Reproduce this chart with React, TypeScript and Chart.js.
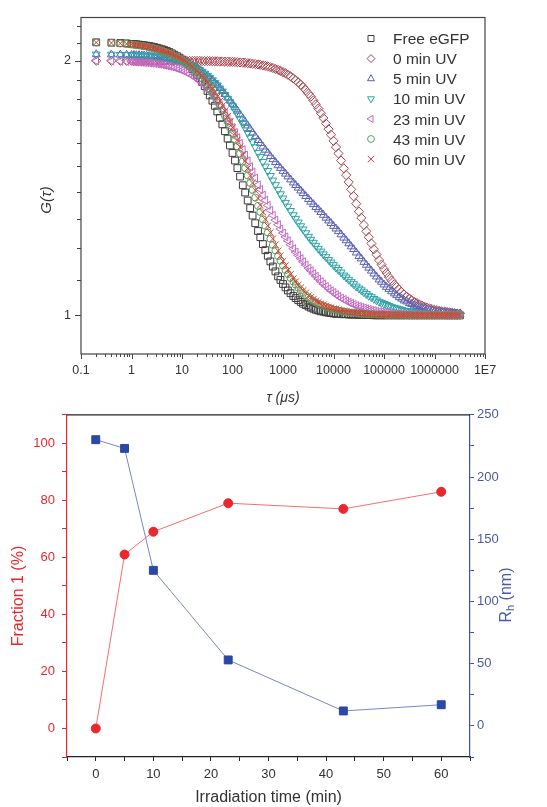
import React, { useEffect, useRef } from 'react';
import { Chart, registerables } from 'chart.js';

Chart.register(...registerables);

const FONT = "'Liberation Sans', Arial, Helvetica, sans-serif";

// ---------- Top chart: FCS autocorrelation curves (lag time in µs) ----------
const TAU = [
  0.2, 0.4, 0.6, 0.8,
  1, 1.12, 1.25, 1.41, 1.6, 1.78, 2, 2.24, 2.5, 2.82, 3.2, 3.55, 4, 4.47, 5, 5.62, 6.3, 7.08, 8, 8.91,
  10, 11.2, 12.5, 14.1, 16, 17.8, 20, 22.4, 25, 28.2, 32, 35.5, 40, 44.7, 50, 56.2, 63, 70.8, 80, 89.1,
  100, 112, 125, 141, 160, 178, 200, 224, 250, 282, 320, 355, 400, 447, 500, 562, 630, 708, 800, 891,
  1000, 1120, 1250, 1410, 1600, 1780, 2000, 2240, 2500, 2820, 3200, 3550, 4000, 4470, 5000, 5620, 6300, 7080, 8000, 8910,
  1e4, 1.12e4, 1.25e4, 1.41e4, 1.6e4, 1.78e4, 2e4, 2.24e4, 2.5e4, 2.82e4, 3.2e4, 3.55e4, 4e4, 4.47e4, 5e4, 5.62e4, 6.3e4, 7.08e4, 8e4, 8.91e4,
  1e5, 1.12e5, 1.25e5, 1.41e5, 1.6e5, 1.78e5, 2e5, 2.24e5, 2.5e5, 2.82e5, 3.2e5, 3.55e5, 4e5, 4.47e5, 5e5, 5.62e5, 6.3e5, 7.08e5, 8e5, 8.91e5,
  1e6, 1.12e6, 1.25e6, 1.41e6, 1.6e6, 1.78e6, 2e6, 2.24e6, 2.5e6, 2.82e6, 3.2e6,
];

const G_FREE = [
  2.103, 2.101, 2.099, 2.097,
  2.094, 2.093, 2.092, 2.090, 2.088, 2.086, 2.084, 2.082, 2.079, 2.076, 2.072, 2.068, 2.064, 2.059, 2.054, 2.048, 2.041, 2.033, 2.025, 2.017,
  2.007, 1.996, 1.985, 1.972, 1.956, 1.942, 1.925, 1.907, 1.888, 1.866, 1.842, 1.820, 1.794, 1.769, 1.742, 1.712, 1.682, 1.651, 1.618, 1.588,
  1.556, 1.524, 1.493, 1.459, 1.425, 1.397, 1.367, 1.339, 1.312, 1.285, 1.258, 1.237, 1.214, 1.194, 1.176, 1.158, 1.142, 1.127, 1.112, 1.101,
  1.089, 1.079, 1.070, 1.062, 1.054, 1.048, 1.042, 1.037, 1.032, 1.028, 1.024, 1.021, 1.018, 1.015, 1.013, 1.011, 1.010, 1.008, 1.007, 1.006,
  1.005, 1.004, 1.004, 1.003, 1.003, 1.003, 1.002, 1.002, 1.002, 1.002, 1.001, 1.001, 1.001, 1.001, 1.001, 1.001, 1.000, 1.000, 1.000, 1.000,
  1.000, 1.000, 1.000, 1.000, 1.000, 1.000, 1.000, 1.000, 1.000, 1.000, 1.000, 1.000, 1.000, 1.000, 1.000, 1.000, 1.000, 1.000, 1.000, 1.000,
  1.000, 1.000, 1.000, 1.000, 1.000, 1.000, 1.000, 1.000, 1.000, 1.000, 1.000,
];

const G_0MIN = [
  2.000, 2.000, 2.000, 2.000,
  2.000, 2.000, 2.000, 2.000, 2.000, 2.000, 2.000, 2.000, 2.000, 2.000, 2.000, 2.000, 2.000, 2.000, 2.000, 2.000, 2.000, 2.000, 2.000, 2.000,
  1.999, 1.999, 1.999, 1.999, 1.999, 1.999, 1.999, 1.999, 1.998, 1.998, 1.998, 1.998, 1.997, 1.997, 1.997, 1.996, 1.996, 1.995, 1.995, 1.994,
  1.994, 1.993, 1.992, 1.991, 1.990, 1.989, 1.987, 1.986, 1.984, 1.982, 1.980, 1.978, 1.975, 1.972, 1.969, 1.965, 1.961, 1.956, 1.951, 1.946,
  1.939, 1.933, 1.925, 1.917, 1.906, 1.897, 1.886, 1.874, 1.861, 1.846, 1.829, 1.814, 1.795, 1.776, 1.756, 1.734, 1.711, 1.686, 1.660, 1.635,
  1.608, 1.581, 1.554, 1.524, 1.492, 1.465, 1.437, 1.409, 1.383, 1.355, 1.326, 1.304, 1.279, 1.257, 1.237, 1.216, 1.197, 1.180, 1.162, 1.148,
  1.134, 1.122, 1.110, 1.099, 1.088, 1.080, 1.072, 1.065, 1.058, 1.052, 1.046, 1.042, 1.037, 1.034, 1.030, 1.027, 1.024, 1.021, 1.019, 1.017,
  1.015, 1.014, 1.012, 1.011, 1.010, 1.009, 1.008, 1.007, 1.006, 1.005, 1.005,
];

const G_5MIN = [
  2.035, 2.034, 2.033, 2.032,
  2.031, 2.031, 2.030, 2.030, 2.029, 2.028, 2.027, 2.026, 2.025, 2.023, 2.022, 2.020, 2.018, 2.016, 2.014, 2.011, 2.008, 2.005, 2.001, 1.997,
  1.993, 1.988, 1.983, 1.977, 1.970, 1.963, 1.956, 1.948, 1.939, 1.929, 1.918, 1.907, 1.895, 1.883, 1.870, 1.856, 1.841, 1.826, 1.809, 1.794,
  1.778, 1.761, 1.745, 1.727, 1.709, 1.693, 1.676, 1.660, 1.644, 1.628, 1.611, 1.598, 1.583, 1.569, 1.556, 1.542, 1.529, 1.517, 1.504, 1.493,
  1.481, 1.470, 1.459, 1.447, 1.435, 1.425, 1.415, 1.404, 1.394, 1.383, 1.372, 1.362, 1.353, 1.342, 1.334, 1.324, 1.314, 1.304, 1.294, 1.285,
  1.275, 1.266, 1.257, 1.246, 1.235, 1.226, 1.216, 1.206, 1.197, 1.186, 1.175, 1.167, 1.156, 1.147, 1.138, 1.129, 1.120, 1.111, 1.102, 1.095,
  1.087, 1.080, 1.074, 1.067, 1.061, 1.056, 1.050, 1.046, 1.041, 1.038, 1.033, 1.031, 1.027, 1.025, 1.022, 1.020, 1.018, 1.016, 1.014, 1.013,
  1.011, 1.010, 1.009, 1.008, 1.007, 1.007, 1.006, 1.005, 1.005, 1.004, 1.004,
];

const G_10MIN = [
  2.035, 2.034, 2.033, 2.033,
  2.032, 2.031, 2.031, 2.030, 2.029, 2.028, 2.027, 2.026, 2.025, 2.024, 2.022, 2.021, 2.019, 2.017, 2.015, 2.012, 2.010, 2.007, 2.003, 1.999,
  1.995, 1.991, 1.986, 1.980, 1.973, 1.966, 1.959, 1.951, 1.942, 1.932, 1.920, 1.910, 1.897, 1.884, 1.871, 1.855, 1.840, 1.823, 1.804, 1.787,
  1.768, 1.749, 1.730, 1.708, 1.685, 1.666, 1.644, 1.623, 1.603, 1.581, 1.557, 1.540, 1.519, 1.500, 1.482, 1.462, 1.444, 1.426, 1.408, 1.391,
  1.375, 1.359, 1.345, 1.329, 1.314, 1.301, 1.288, 1.275, 1.264, 1.251, 1.239, 1.229, 1.219, 1.209, 1.199, 1.190, 1.181, 1.172, 1.163, 1.155,
  1.147, 1.139, 1.132, 1.124, 1.115, 1.109, 1.102, 1.095, 1.089, 1.082, 1.076, 1.071, 1.065, 1.060, 1.055, 1.051, 1.046, 1.042, 1.038, 1.035,
  1.032, 1.029, 1.026, 1.023, 1.021, 1.019, 1.017, 1.015, 1.013, 1.012, 1.011, 1.010, 1.009, 1.008, 1.007, 1.006, 1.006, 1.005, 1.004, 1.004,
  1.004, 1.003, 1.003, 1.003, 1.002, 1.002, 1.002, 1.002, 1.001, 1.001, 1.001,
];

const G_23MIN = [
  1.999, 1.998, 1.997, 1.996,
  1.995, 1.994, 1.993, 1.992, 1.991, 1.990, 1.989, 1.988, 1.987, 1.985, 1.983, 1.981, 1.979, 1.976, 1.973, 1.970, 1.967, 1.963, 1.958, 1.954,
  1.948, 1.943, 1.936, 1.929, 1.920, 1.912, 1.903, 1.893, 1.882, 1.869, 1.854, 1.842, 1.826, 1.810, 1.793, 1.774, 1.755, 1.734, 1.711, 1.691,
  1.668, 1.645, 1.622, 1.597, 1.570, 1.547, 1.523, 1.499, 1.477, 1.453, 1.426, 1.409, 1.387, 1.368, 1.349, 1.331, 1.313, 1.296, 1.280, 1.265,
  1.251, 1.238, 1.225, 1.212, 1.199, 1.188, 1.177, 1.167, 1.157, 1.147, 1.137, 1.129, 1.120, 1.112, 1.104, 1.096, 1.089, 1.082, 1.075, 1.069,
  1.064, 1.058, 1.053, 1.048, 1.044, 1.040, 1.036, 1.033, 1.030, 1.027, 1.024, 1.022, 1.020, 1.018, 1.016, 1.014, 1.013, 1.011, 1.010, 1.009,
  1.008, 1.008, 1.007, 1.006, 1.005, 1.005, 1.004, 1.004, 1.003, 1.003, 1.003, 1.002, 1.002, 1.002, 1.002, 1.001, 1.001, 1.001, 1.001, 1.001,
  1.001, 1.001, 1.001, 1.001, 1.000, 1.000, 1.000, 1.000, 1.000, 1.000, 1.000,
];

const G_43MIN = [
  2.102, 2.099, 2.096, 2.093,
  2.091, 2.089, 2.087, 2.085, 2.083, 2.081, 2.078, 2.075, 2.072, 2.068, 2.064, 2.060, 2.055, 2.050, 2.045, 2.039, 2.033, 2.026, 2.018, 2.011,
  2.002, 1.993, 1.984, 1.972, 1.960, 1.949, 1.935, 1.922, 1.907, 1.890, 1.872, 1.855, 1.835, 1.815, 1.794, 1.771, 1.747, 1.721, 1.694, 1.668,
  1.640, 1.612, 1.584, 1.553, 1.521, 1.493, 1.463, 1.434, 1.407, 1.378, 1.347, 1.325, 1.299, 1.276, 1.253, 1.232, 1.211, 1.193, 1.175, 1.160,
  1.145, 1.131, 1.119, 1.107, 1.096, 1.087, 1.078, 1.070, 1.063, 1.056, 1.050, 1.045, 1.040, 1.036, 1.032, 1.029, 1.026, 1.023, 1.021, 1.018,
  1.016, 1.015, 1.013, 1.012, 1.010, 1.009, 1.008, 1.007, 1.007, 1.006, 1.005, 1.005, 1.004, 1.004, 1.003, 1.003, 1.003, 1.002, 1.002, 1.002,
  1.002, 1.001, 1.001, 1.001, 1.001, 1.001, 1.001, 1.001, 1.001, 1.001, 1.000, 1.000, 1.000, 1.000, 1.000, 1.000, 1.000, 1.000, 1.000, 1.000,
  1.000, 1.000, 1.000, 1.000, 1.000, 1.000, 1.000, 1.000, 1.000, 1.000, 1.000,
];

const G_60MIN = [
  2.102, 2.099, 2.097, 2.094,
  2.091, 2.090, 2.088, 2.086, 2.084, 2.082, 2.079, 2.076, 2.074, 2.070, 2.066, 2.062, 2.058, 2.053, 2.048, 2.043, 2.037, 2.030, 2.023, 2.016,
  2.008, 2.000, 1.991, 1.980, 1.969, 1.958, 1.946, 1.933, 1.920, 1.904, 1.887, 1.871, 1.853, 1.834, 1.814, 1.792, 1.770, 1.745, 1.719, 1.694,
  1.667, 1.640, 1.612, 1.582, 1.550, 1.522, 1.492, 1.463, 1.434, 1.405, 1.375, 1.350, 1.324, 1.299, 1.276, 1.253, 1.232, 1.212, 1.192, 1.176,
  1.159, 1.145, 1.131, 1.118, 1.105, 1.096, 1.086, 1.078, 1.070, 1.063, 1.055, 1.050, 1.045, 1.040, 1.036, 1.032, 1.029, 1.026, 1.023, 1.021,
  1.018, 1.017, 1.015, 1.013, 1.012, 1.010, 1.009, 1.008, 1.007, 1.007, 1.006, 1.005, 1.005, 1.004, 1.004, 1.003, 1.003, 1.003, 1.002, 1.002,
  1.002, 1.002, 1.001, 1.001, 1.001, 1.001, 1.001, 1.001, 1.001, 1.001, 1.001, 1.000, 1.000, 1.000, 1.000, 1.000, 1.000, 1.000, 1.000, 1.000,
  1.000, 1.000, 1.000, 1.000, 1.000, 1.000, 1.000, 1.000, 1.000, 1.000, 1.000,
];

const SERIES_LABELS = ['Free eGFP', '0 min UV', '5 min UV', '10 min UV', '23 min UV', '43 min UV', '60 min UV'];
const SERIES_VALUES = [G_FREE, G_0MIN, G_5MIN, G_10MIN, G_23MIN, G_43MIN, G_60MIN];

const X_MAJOR = [0.1, 1, 10, 100, 1000, 10000, 100000, 1000000, 10000000];
const X_MAJOR_LABELS = ['0.1', '1', '10', '100', '1000', '10000', '100000', '1000000', '1E7'];
const Y_TICKS = [1, 1.1, 1.2, 1.3, 1.4, 1.5, 1.6, 1.7, 1.8, 1.9, 2, 2.1, 2.2];
const Y_LABELED = [1, 2];

// ---------- Bottom chart ----------
const TIME_MIN = [0, 5, 10, 23, 43, 60];
const FRACTION1 = [0, 61, 69, 79, 77, 83];
const RH_NM = [230, 223, 125, 53, 12, 17];

// ---------- styles ----------
const COLORS = ['#3c3c3c', '#a8464e', '#5a62b6', '#2ba3a6', '#c466c4', '#4aa85a', '#ee3434'];
const MARKS = [
  { style: 'rect', rot: 0, r: 4.8, legend: 'square' },
  { style: 'rectRot', rot: 0, r: 4.6, legend: 'diamond' },
  { style: 'triangle', rot: 0, r: 4.6, legend: 'up' },
  { style: 'triangle', rot: 180, r: 4.6, legend: 'down' },
  { style: 'triangle', rot: 270, r: 4.6, legend: 'left' },
  { style: 'circle', rot: 0, r: 3.5, legend: 'circle' },
  { style: 'crossRot', rot: 0, r: 4.6, legend: 'x' },
];

function drawMarker(ctx: CanvasRenderingContext2D, shape: string, x: number, y: number, r: number) {
  ctx.beginPath();
  const s = 0.866 * r;
  switch (shape) {
    case 'square':
      ctx.rect(x - r * 0.75, y - r * 0.75, r * 1.5, r * 1.5);
      break;
    case 'diamond':
      ctx.moveTo(x, y - r); ctx.lineTo(x + r, y); ctx.lineTo(x, y + r); ctx.lineTo(x - r, y); ctx.closePath();
      break;
    case 'up':
      ctx.moveTo(x, y - r); ctx.lineTo(x + s, y + r / 2); ctx.lineTo(x - s, y + r / 2); ctx.closePath();
      break;
    case 'down':
      ctx.moveTo(x, y + r); ctx.lineTo(x + s, y - r / 2); ctx.lineTo(x - s, y - r / 2); ctx.closePath();
      break;
    case 'left':
      ctx.moveTo(x - r, y); ctx.lineTo(x + r / 2, y - s); ctx.lineTo(x + r / 2, y + s); ctx.closePath();
      break;
    case 'circle':
      ctx.arc(x, y, r * 0.85, 0, Math.PI * 2);
      break;
    case 'x':
      ctx.moveTo(x - r * 0.8, y - r * 0.8); ctx.lineTo(x + r * 0.8, y + r * 0.8);
      ctx.moveTo(x + r * 0.8, y - r * 0.8); ctx.lineTo(x - r * 0.8, y + r * 0.8);
      break;
  }
  ctx.stroke();
}

function drawRotated(ctx: CanvasRenderingContext2D, text: string, cx: number, cy: number, font: string, color: string) {
  ctx.save();
  ctx.translate(cx, cy);
  ctx.rotate(-Math.PI / 2);
  ctx.font = font;
  ctx.fillStyle = color;
  ctx.textAlign = 'center';
  ctx.textBaseline = 'middle';
  ctx.fillText(text, 0, 0);
  ctx.restore();
}

function xTicks() {
  const out: number[] = [];
  for (let i = 0; i < X_MAJOR.length; i++) {
    out.push(X_MAJOR[i]);
    if (i < X_MAJOR.length - 1) for (let k = 2; k <= 9; k++) out.push(X_MAJOR[i] * k);
  }
  return out;
}

function near(a: number, b: number) {
  return Math.abs(a / b - 1) < 1e-6;
}

const RED = '#e8282c';
const BLUE = '#3f51a3';

export default function App() {
  const topRef = useRef<HTMLCanvasElement>(null);
  const botRef = useRef<HTMLCanvasElement>(null);

  useEffect(() => {
    const topDatasets = SERIES_VALUES.map((vals, i) => ({
      label: SERIES_LABELS[i],
      data: TAU.map((t, j) => ({ x: t, y: vals[j] })),
      showLine: false,
      pointStyle: MARKS[i].style as any,
      pointRotation: MARKS[i].rot,
      pointRadius: MARKS[i].r,
      pointBorderColor: COLORS[i],
      borderColor: COLORS[i],
      pointBackgroundColor: 'rgba(0,0,0,0)',
      backgroundColor: 'rgba(0,0,0,0)',
      pointBorderWidth: 1,
      order: 10 - i,
    }));

    const topChart = new Chart(topRef.current as HTMLCanvasElement, {
      type: 'scatter',
      data: { datasets: topDatasets as any },
      options: {
        animation: false,
        responsive: false,
        devicePixelRatio: 1,
        events: [],
        layout: { padding: { top: 15, right: 62, left: 0, bottom: 0 } },
        plugins: { legend: { display: false }, tooltip: { enabled: false } },
        scales: {
          x: {
            type: 'logarithmic',
            min: 0.1,
            max: 1e7,
            afterBuildTicks: (s: any) => { s.ticks = xTicks().map((v) => ({ value: v })); },
            afterFit: (s: any) => { s.height = 58; },
            ticks: {
              autoSkip: false,
              maxRotation: 0,
              minRotation: 0,
              padding: 9,
              color: '#333',
              font: { family: FONT, size: 12.5 },
              callback: (v: any) => {
                const idx = X_MAJOR.findIndex((m) => near(Number(v), m));
                return idx >= 0 ? X_MAJOR_LABELS[idx] : '';
              },
            },
            grid: { display: false, drawTicks: false },
            border: { display: false },
            title: {
              display: true,
              text: 'τ (μs)',
              color: '#333',
              font: { family: FONT, size: 14, style: 'italic' },
              padding: { top: 0, bottom: 5 },
            },
          },
          y: {
            type: 'logarithmic',
            min: 0.9,
            max: 2.25,
            afterBuildTicks: (s: any) => { s.ticks = Y_TICKS.map((v) => ({ value: v })); },
            afterFit: (s: any) => { s.width = 81; },
            ticks: {
              autoSkip: false,
              padding: 10,
              color: '#333',
              font: { family: FONT, size: 12.5 },
              callback: (v: any) => {
                const f = Y_LABELED.find((m) => near(Number(v), m));
                return f !== undefined ? String(f) : '';
              },
            },
            grid: { display: false, drawTicks: false },
            border: { display: false },
          },
        },
      },
      plugins: [
        {
          id: 'topDecor',
          afterDraw(chart: any) {
            const { ctx, chartArea: a, scales } = chart;
            ctx.save();
            ctx.strokeStyle = '#444';
            ctx.lineWidth = 1.2;
            ctx.strokeRect(a.left, a.top, a.right - a.left, a.bottom - a.top);
            // tick marks: long for major, short for minor
            ctx.lineWidth = 1;
            ctx.beginPath();
            xTicks().forEach((v) => {
              const px = Math.round(scales.x.getPixelForValue(v)) + 0.5;
              const major = X_MAJOR.some((m) => near(v, m));
              ctx.moveTo(px, a.bottom);
              ctx.lineTo(px, a.bottom + (major ? 5 : 3));
            });
            Y_TICKS.forEach((v) => {
              const py = Math.round(scales.y.getPixelForValue(v)) + 0.5;
              const major = Y_LABELED.some((m) => near(v, m));
              ctx.moveTo(a.left, py);
              ctx.lineTo(a.left - (major ? 6 : 4), py);
            });
            ctx.stroke();
            // legend
            ctx.font = `15.5px ${FONT}`;
            ctx.fillStyle = '#333';
            ctx.textAlign = 'left';
            ctx.textBaseline = 'alphabetic';
            SERIES_LABELS.forEach((lab, i) => {
              const y = 38.5 + i * 20.1;
              ctx.strokeStyle = COLORS[i];
              ctx.lineWidth = 1;
              drawMarker(ctx, MARKS[i].legend, 371, y, 4);
              ctx.fillText(lab, 393, y + 5.6);
            });
            ctx.restore();
            drawRotated(ctx, 'G(τ)', 46.5, 200, `italic 15px ${FONT}`, '#333');
          },
        },
      ],
    } as any);

    const botChart = new Chart(botRef.current as HTMLCanvasElement, {
      type: 'line',
      data: {
        datasets: [
          {
            label: 'Fraction 1',
            data: TIME_MIN.map((t, i) => ({ x: t, y: FRACTION1[i] })),
            yAxisID: 'y',
            borderColor: '#f27070',
            borderWidth: 1,
            pointStyle: 'circle',
            pointRadius: 4.5,
            pointBackgroundColor: RED,
            pointBorderColor: RED,
            pointBorderWidth: 1,
            fill: false,
            tension: 0,
          },
          {
            label: 'Rh',
            data: TIME_MIN.map((t, i) => ({ x: t, y: RH_NM[i] })),
            yAxisID: 'y2',
            borderColor: '#7a86c6',
            borderWidth: 1,
            pointStyle: 'rect',
            pointRadius: 5.6,
            pointBackgroundColor: '#2b48a6',
            pointBorderColor: '#2b48a6',
            pointBorderWidth: 1,
            fill: false,
            tension: 0,
          },
        ],
      },
      options: {
        animation: false,
        responsive: false,
        devicePixelRatio: 1,
        events: [],
        layout: { padding: { top: 13, right: 0, left: 0, bottom: 0 } },
        plugins: { legend: { display: false }, tooltip: { enabled: false } },
        scales: {
          x: {
            type: 'linear',
            min: -5,
            max: 65,
            afterFit: (s: any) => { s.height = 50; },
            ticks: {
              stepSize: 5,
              autoSkip: false,
              maxRotation: 0,
              padding: 6,
              color: '#333',
              font: { family: FONT, size: 13 },
              callback: (v: any) => {
                const n = Number(v);
                return n >= 0 && n <= 60 && n % 10 === 0 ? String(n) : '';
              },
            },
            grid: { display: true, drawOnChartArea: false, drawTicks: true, tickLength: 4, color: '#222' },
            border: { display: true, color: '#222', width: 1.2 },
            title: {
              display: true,
              text: 'Irradiation time (min)',
              color: '#333',
              font: { family: FONT, size: 16 },
              padding: { top: 0, bottom: 0 },
            },
          },
          y: {
            type: 'linear',
            position: 'left',
            min: -10,
            max: 110,
            afterFit: (s: any) => { s.width = 67; },
            ticks: {
              stepSize: 10,
              autoSkip: false,
              padding: 7,
              color: RED,
              font: { family: FONT, size: 13 },
              callback: (v: any) => {
                const n = Number(v);
                return n >= 0 && n <= 100 && n % 20 === 0 ? String(n) : '';
              },
            },
            grid: { display: true, drawOnChartArea: false, drawTicks: true, tickLength: 5, color: RED },
            border: { display: true, color: RED, width: 1.2 },
          },
          y2: {
            type: 'linear',
            position: 'right',
            min: -25,
            max: 250,
            afterFit: (s: any) => { s.width = 77; },
            ticks: {
              stepSize: 25,
              autoSkip: false,
              padding: 3,
              color: '#4a5aa6',
              font: { family: FONT, size: 13 },
              callback: (v: any) => {
                const n = Number(v);
                return n >= 0 && n <= 250 && n % 50 === 0 ? String(n) : '';
              },
            },
            grid: { display: true, drawOnChartArea: false, drawTicks: true, tickLength: 4, color: BLUE },
            border: { display: true, color: BLUE, width: 1.2 },
          },
        },
      },
      plugins: [
        {
          id: 'botDecor',
          afterDraw(chart: any) {
            const { ctx, chartArea: a } = chart;
            ctx.save();
            ctx.strokeStyle = '#222';
            ctx.lineWidth = 1.2;
            ctx.beginPath();
            ctx.moveTo(a.left, a.top);
            ctx.lineTo(a.right, a.top);
            ctx.stroke();
            ctx.restore();
            drawRotated(ctx, 'Fraction 1 (%)', 18.5, 196, `16px ${FONT}`, RED);
            // right title R_h (nm), reading bottom-to-top with subscript
            ctx.save();
            ctx.translate(505, 195);
            ctx.rotate(-Math.PI / 2);
            ctx.fillStyle = '#4a5aa6';
            ctx.textBaseline = 'alphabetic';
            ctx.textAlign = 'left';
            const big = `16px ${FONT}`;
            const small = `11px ${FONT}`;
            ctx.font = big;
            const wR = ctx.measureText('R').width;
            const wRest = ctx.measureText(' (nm)').width;
            ctx.font = small;
            const wh = ctx.measureText('h').width;
            const total = wR + wh + wRest;
            let x = -total / 2;
            const base = 5.7;
            ctx.font = big;
            ctx.fillText('R', x, base);
            x += wR;
            ctx.font = small;
            ctx.fillText('h', x, base + 3.5);
            x += wh;
            ctx.font = big;
            ctx.fillText(' (nm)', x, base);
            ctx.restore();
          },
        },
      ],
    } as any);

    return () => {
      topChart.destroy();
      botChart.destroy();
    };
  }, []);

  return (
    <div style={{ position: 'absolute', left: 0, top: 0, width: 547, height: 807, background: '#ffffff' }}>
      <canvas
        ref={topRef}
        width={547}
        height={412}
        style={{ position: 'absolute', left: 0, top: 0, width: 547, height: 412 }}
      />
      <canvas
        ref={botRef}
        width={547}
        height={407}
        style={{ position: 'absolute', left: 0, top: 400, width: 547, height: 407 }}
      />
    </div>
  );
}
